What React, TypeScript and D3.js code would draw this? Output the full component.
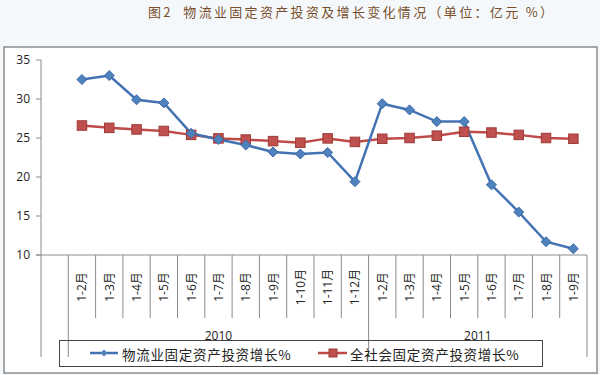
import React from 'react';
import * as d3 from 'd3';

const title = '图2  物流业固定资产投资及增长变化情况（单位：亿元 %）';
const years = ['2010', '2011'];
const months2010 = ['1-2月', '1-3月', '1-4月', '1-5月', '1-6月', '1-7月', '1-8月', '1-9月', '1-10月', '1-11月', '1-12月'];
const months2011 = ['1-2月', '1-3月', '1-4月', '1-5月', '1-6月', '1-7月', '1-8月', '1-9月'];
const seriesNames = ['物流业固定资产投资增长%', '全社会固定资产投资增长%'];
// 物流业
const logistics = [32.5, 33.0, 29.9, 29.5, 25.6, 24.8, 24.1, 23.2, 22.95, 23.15, 19.4, 29.4, 28.6, 27.1, 27.1, 19.0, 15.5, 11.7, 10.8];
// 全社会
const society = [26.6, 26.3, 26.1, 25.9, 25.4, 24.95, 24.8, 24.6, 24.4, 24.95, 24.5, 24.9, 25.0, 25.3, 25.8, 25.7, 25.4, 25.0, 24.9];
const yTicks = [10, 15, 20, 25, 30, 35];

const W = 600;
const H = 375;
const blue = '#4473b4';
const red = '#be4b48';
const axisColor = '#8a8a8a';
const cjk = '"Noto Sans CJK SC", sans-serif';
const latin = '"Open Sans", "Noto Sans CJK SC", sans-serif';

const groups = [
  { year: years[0], months: months2010 },
  { year: years[1], months: months2011 },
];
const keys: string[] = [];
const labels: string[] = [];
groups.forEach(g => g.months.forEach(m => { keys.push(g.year + '|' + m); labels.push(m); }));

export default function App() {
  const x = d3.scaleBand<string>().domain(['blank', ...keys]).range([41, 587]).paddingInner(0).paddingOuter(0);
  const y = d3.scaleLinear().domain([10, 35]).range([255, 60]);
  const bw = x.bandwidth();
  const cx = (i: number) => (x(keys[i]) as number) + bw / 2;

  const line = d3.line<number>().x((_, i) => cx(i)).y(d => y(d));

  const y0 = y(10);
  const groupEdges: number[] = [41, x(keys[0]) as number];
  let idx = 0;
  groups.forEach(g => { idx += g.months.length; groupEdges.push(idx < keys.length ? (x(keys[idx]) as number) : 587); });

  const diamond = d3.symbol().type(d3.symbolDiamond2).size(64)();
  const sq = 9.5;

  return (
    <div style={{ position: 'fixed', left: 0, top: 0 }}>
      <svg width={W} height={H} style={{ display: 'block' }}>
        <rect x={0} y={0} width={W} height={H} fill="#f4f8fb" />
        <text x={148} y={17} fontFamily={cjk} fontSize={13} fill="#7a4e2a" textLength={405} lengthAdjust="spacing" style={{ whiteSpace: 'pre' }}>{title}</text>
        <rect x={4} y={47} width={593} height={326} fill="#fff" stroke="#8c8c8c" strokeWidth={1.5} />

        {/* y axis */}
        <line x1={41} x2={41} y1={y(35)} y2={y0} stroke={axisColor} />
        {yTicks.map(t => (
          <g key={t}>
            <line x1={36} x2={41} y1={y(t)} y2={y(t)} stroke={axisColor} />
            <text x={30} y={y(t) + 4} textAnchor="end" fontFamily={latin} fontSize={12} fill="#222">{t}</text>
          </g>
        ))}

        {/* x axis */}
        <line x1={36} x2={587} y1={y0} y2={y0} stroke={axisColor} />
        {keys.map((k, i) => i > 0 && !groupEdges.includes(x(k) as number) ? (
          <line key={k} x1={x(k)} x2={x(k)} y1={y0} y2={318} stroke={axisColor} />
        ) : null)}
        {groupEdges.map((e, i) => (
          <line key={'g' + i} x1={e} x2={e} y1={y0} y2={357} stroke={axisColor} />
        ))}
        {labels.map((m, i) => (
          <text key={keys[i]} transform={`translate(${cx(i) + 4.5},287) rotate(-90)`} textAnchor="middle" fontFamily={latin} fontSize={12} fill="#222">{m}</text>
        ))}
        {groups.map((g, i) => (
          <text key={g.year} x={(groupEdges[i + 1] + groupEdges[i + 2]) / 2} y={340} textAnchor="middle" fontFamily={latin} fontSize={12} fill="#222">{g.year}</text>
        ))}

        {/* series */}
        <path d={line(society) || ''} fill="none" stroke={red} strokeWidth={2.5} />
        <path d={line(logistics) || ''} fill="none" stroke={blue} strokeWidth={2.5} />
        {society.map((v, i) => (
          <rect key={'s' + i} x={cx(i) - sq / 2} y={y(v) - sq / 2} width={sq} height={sq} fill="#c0504d" stroke="#9c3b39" strokeWidth={1} />
        ))}
        {logistics.map((v, i) => (
          <path key={'l' + i} d={diamond || ''} transform={`translate(${cx(i)},${y(v)})`} fill="#4f81bd" stroke="#3c6aa8" strokeWidth={1} />
        ))}

        {/* legend */}
        <rect x={59.5} y={340.5} width={483} height={26} fill="none" stroke="#444" strokeWidth={1} />
        <line x1={90} x2={118} y1={353} y2={353} stroke={blue} strokeWidth={2.5} />
        <path d={d3.symbol().type(d3.symbolDiamond2).size(30)() || ''} transform="translate(104,353)" fill="#4f81bd" />
        <text x={122} y={359.5} fontFamily={cjk} fontSize={13.5} fill="#222" letterSpacing={0.7}>{seriesNames[0]}</text>
        <line x1={318} x2={347} y1={353} y2={353} stroke={red} strokeWidth={2.5} />
        <rect x={329} y={349} width={8} height={8} fill="#c0504d" stroke="#9c3b39" />
        <text x={350} y={359.5} fontFamily={cjk} fontSize={13.5} fill="#222" letterSpacing={0.7}>{seriesNames[1]}</text>
      </svg>
    </div>
  );
}
